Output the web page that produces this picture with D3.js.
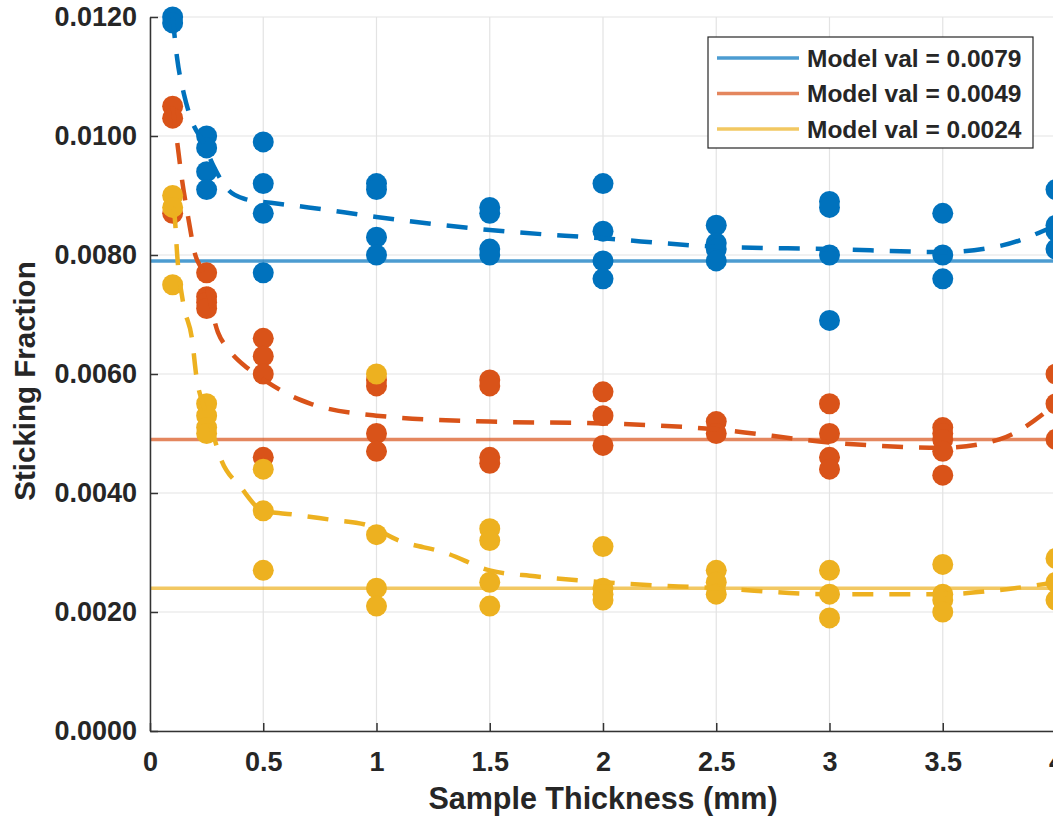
<!DOCTYPE html>
<html>
<head>
<meta charset="utf-8">
<script src="https://cdn.jsdelivr.net/npm/d3@7"></script>
<style>
  body { margin: 0; background: #fff; }
  #chart { width: 1053px; height: 819px; }
  svg text { font-family: "Liberation Sans", Arial, sans-serif; font-weight: bold; fill: #262626; }
</style>
</head>
<body>
<div id="chart"></div>
<script>
// measured thickness values (mm)
const thickness = [0.1, 0.25, 0.5, 1, 1.5, 2, 2.5, 3, 3.5, 4];

// sticking fraction samples, one list per thickness
const blueSamples = [
  [0.0120, 0.0119],
  [0.0100, 0.0098, 0.0094, 0.0091],
  [0.0099, 0.0092, 0.0087, 0.0077],
  [0.0092, 0.0091, 0.0083, 0.0080],
  [0.0088, 0.0087, 0.0081, 0.0080],
  [0.0092, 0.0084, 0.0079, 0.0076],
  [0.0085, 0.0082, 0.0081, 0.0079],
  [0.0089, 0.0088, 0.0080, 0.0069],
  [0.0087, 0.0080, 0.0076],
  [0.0091, 0.0085, 0.0084, 0.0081]
];
const redSamples = [
  [0.0105, 0.0103, 0.0087],
  [0.0077, 0.0073, 0.0072, 0.0071],
  [0.0066, 0.0063, 0.0060, 0.0046],
  [0.0059, 0.0058, 0.0050, 0.0047],
  [0.0059, 0.0058, 0.0046, 0.0045],
  [0.0057, 0.0053, 0.0048],
  [0.0052, 0.0050],
  [0.0055, 0.0050, 0.0046, 0.0044],
  [0.0051, 0.0050, 0.0049, 0.0047, 0.0043],
  [0.0060, 0.0055, 0.0049]
];
const yellowSamples = [
  [0.0090, 0.0088, 0.0075],
  [0.0055, 0.0053, 0.0051, 0.0050],
  [0.0044, 0.0037, 0.0027],
  [0.0060, 0.0033, 0.0024, 0.0021],
  [0.0034, 0.0032, 0.0025, 0.0021],
  [0.0031, 0.0024, 0.0023, 0.0022],
  [0.0027, 0.0025, 0.0023],
  [0.0027, 0.0023, 0.0019],
  [0.0028, 0.0023, 0.0022, 0.0020],
  [0.0029, 0.0025, 0.0022]
];

// dashed fit curves
const blueFitX = [0.1, 0.12, 0.15, 0.185, 0.234, 0.28, 0.344, 0.42, 0.55, 0.7, 1, 1.5, 2, 2.5, 3, 3.5, 3.75, 4];
const blueFitY = [0.0120, 0.0113, 0.0107, 0.01025, 0.0099, 0.0095, 0.0091, 0.00894, 0.00887, 0.0088, 0.00864, 0.00842, 0.00828, 0.00814, 0.0081, 0.00805, 0.00815, 0.0085];
const redFitX = [0.1, 0.12, 0.14, 0.17, 0.2, 0.23, 0.3, 0.35, 0.43, 0.52, 0.63, 0.71, 1, 1.5, 2, 2.5, 3, 3.5, 3.75, 4];
const redFitY = [0.0105, 0.0099, 0.0093, 0.0086, 0.0080, 0.00775, 0.0067, 0.0064, 0.0061, 0.00586, 0.00562, 0.0055, 0.0053, 0.0052, 0.00517, 0.00507, 0.00485, 0.00476, 0.0049, 0.0055];
const yellowFitX = [0.1, 0.11, 0.12, 0.146, 0.185, 0.207, 0.234, 0.27, 0.31, 0.4, 0.5, 0.63, 0.8, 0.95, 1.1, 1.3, 1.5, 1.7, 2, 2.5, 3, 3.5, 3.75, 4];
const yellowFitY = [0.0088, 0.0086, 0.0080, 0.0072, 0.0066, 0.0059, 0.0055, 0.0051, 0.0046, 0.0041, 0.0037, 0.00364, 0.00355, 0.00347, 0.0032, 0.0030, 0.0027, 0.0026, 0.0025, 0.0024, 0.0023, 0.0023, 0.00237, 0.0025];

// model values (solid lines) and legend text
const modelVals = [0.0079, 0.0049, 0.0024];
const legendLabels = ["Model val = 0.0079", "Model val = 0.0049", "Model val = 0.0024"];

const xTicks = [0, 0.5, 1, 1.5, 2, 2.5, 3, 3.5, 4];
const yTicks = [0, 0.002, 0.004, 0.006, 0.008, 0.010, 0.012];

const colors = ["#0072BD", "#D95319", "#EDB120"];

const totalW = 1053, totalH = 819;
const margin = { top: 17, left: 150 };
const width = 906, height = 714;

const svg = d3.select("#chart").append("svg")
  .attr("width", totalW)
  .attr("height", totalH);

const chart = svg.append("g")
  .attr("transform", `translate(${margin.left}, ${margin.top})`);

const x = d3.scaleLinear().domain([0, 4]).range([0, width]);
const y = d3.scaleLinear().domain([0, 0.012]).range([height, 0]);

// grid
const grid = chart.append("g").attr("class", "grid");
grid.selectAll(".gx").data(xTicks).enter().append("line")
  .attr("x1", d => x(d)).attr("x2", d => x(d))
  .attr("y1", 0).attr("y2", height)
  .attr("stroke", "#e3e3e3").attr("stroke-width", 1.2);
grid.selectAll(".gy").data(yTicks).enter().append("line")
  .attr("x1", 0).attr("x2", width)
  .attr("y1", d => y(d)).attr("y2", d => y(d))
  .attr("stroke", "#e3e3e3").attr("stroke-width", 1.2);

// model lines
chart.selectAll(".model").data(modelVals).enter().append("line")
  .attr("class", "model")
  .attr("x1", 0).attr("x2", width)
  .attr("y1", d => y(d)).attr("y2", d => y(d))
  .attr("stroke", (d, i) => colors[i])
  .attr("stroke-opacity", 0.7)
  .attr("stroke-width", 3.5);

const series = [
  { samples: blueSamples, fx: blueFitX, fy: blueFitY },
  { samples: redSamples, fx: redFitX, fy: redFitY },
  { samples: yellowSamples, fx: yellowFitX, fy: yellowFitY }
];

const fitLine = d3.line()
  .x(d => x(d[0]))
  .y(d => y(d[1]))
  .curve(d3.curveMonotoneX);

series.forEach((s, si) => {
  let pts = [];
  thickness.forEach((t, i) => s.samples[i].forEach(v => pts.push([t, v])));

  chart.append("g").selectAll("circle").data(pts).enter().append("circle")
    .attr("cx", d => x(d[0]))
    .attr("cy", d => y(d[1]))
    .attr("r", 10.5)
    .attr("fill", colors[si]);

  chart.append("path")
    .datum(s.fx.map((v, i) => [v, s.fy[i]]))
    .attr("d", fitLine)
    .attr("fill", "none")
    .attr("stroke", colors[si])
    .attr("stroke-width", 4.5)
    .attr("stroke-dasharray", "21,16");
});

// axes
const xAxis = chart.append("g")
  .attr("class", "axis axis-x")
  .attr("transform", `translate(0, ${height})`)
  .call(d3.axisBottom(x).tickValues(xTicks).tickFormat(d3.format("~g"))
    .tickSizeInner(-8).tickSizeOuter(0).tickPadding(21));

const yAxis = chart.append("g")
  .attr("class", "axis axis-y")
  .call(d3.axisLeft(y).tickValues(yTicks).tickFormat(d3.format(".4f"))
    .tickSizeInner(-8).tickSizeOuter(0).tickPadding(13));

svg.selectAll(".axis path, .axis line").attr("stroke", "#333").attr("stroke-width", 1.5);
svg.selectAll(".axis text").attr("font-size", 27).attr("fill", "#262626");
svg.selectAll(".axis").attr("font-family", null);

// axis titles
svg.append("text")
  .attr("x", margin.left + width / 2)
  .attr("y", 809)
  .attr("text-anchor", "middle")
  .attr("font-size", 30.5)
  .text("Sample Thickness (mm)");

svg.append("text")
  .attr("transform", "translate(35, 381) rotate(-90)")
  .attr("text-anchor", "middle")
  .attr("font-size", 29.5)
  .text("Sticking Fraction");

// legend
const legend = svg.append("g").attr("transform", "translate(708, 37)");
legend.append("rect")
  .attr("width", 325).attr("height", 111)
  .attr("fill", "#fff").attr("stroke", "#262626").attr("stroke-width", 1.2);

const items = legend.selectAll(".item").data(legendLabels).enter().append("g")
  .attr("transform", (d, i) => `translate(0, ${21 + i * 35.5})`);
items.append("line")
  .attr("x1", 9).attr("x2", 91)
  .attr("stroke", (d, i) => colors[i])
  .attr("stroke-opacity", 0.7)
  .attr("stroke-width", 3.5);
items.append("text")
  .attr("x", 99)
  .attr("dy", "0.36em")
  .attr("font-size", 24.5)
  .text(d => d);
</script>
</body>
</html>
